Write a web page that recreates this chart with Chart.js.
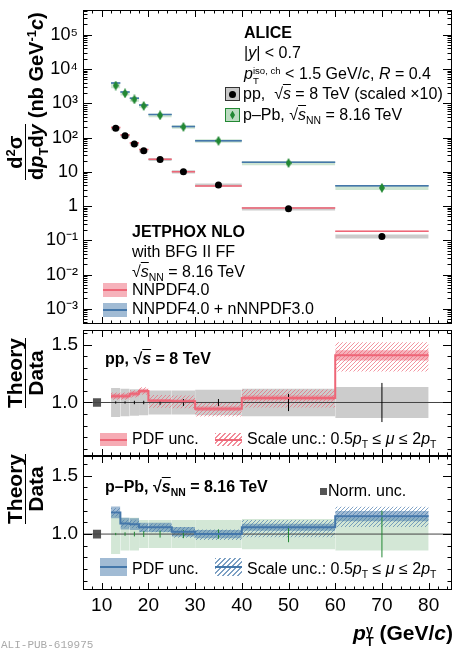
<!DOCTYPE html>
<html>
<head>
<meta charset="utf-8">
<script src="https://cdn.jsdelivr.net/npm/chart.js@4.4.1/dist/chart.umd.min.js"></script>
<style>
  body { margin: 0; background: #fff; }
  #page { position: relative; width: 458px; height: 650px; overflow: hidden; background: #fff; }
  canvas { position: absolute; left: 0; }
  .t { position: absolute; font-family: "Liberation Sans", Arial, Helvetica, sans-serif; font-size: 16px; line-height: 16px; white-space: nowrap; color: #000; }
  .b { font-weight: bold; }
  .t sup, .t sub { font-size: 65%; line-height: 0; position: relative; vertical-align: baseline; }
  .t sup { top: -0.55em; }
  .t sub { top: 0.35em; }
  .ov { text-decoration: overline; }
  .stk { display: inline-block; font-size: 60%; line-height: 1; vertical-align: -0.5em; }
  .stk span { display: block; }
  .ytitle { display: flex; align-items: flex-end; transform-origin: 0 0; transform: rotate(-90deg); }
  .frac { display: inline-flex; flex-direction: column; text-align: center; }
  .frac .num { border-bottom: 1.5px solid #000; }
  .sw { position: absolute; box-sizing: border-box; }
  .mid { position: absolute; left: 0; right: 0; top: 50%; height: 2px; margin-top: -1px; }
  .hr { background: repeating-linear-gradient(135deg, rgba(238,102,119,0.75) 0 1px, transparent 1px 3.5px); }
  .hb { background: repeating-linear-gradient(135deg, rgba(68,119,170,0.7) 0 1px, transparent 1px 3.5px); }
  #tag { position: absolute; left: 1px; top: 639px; font-family: "Liberation Mono", "DejaVu Sans Mono", monospace; font-size: 11px; color: #aaa; }
</style>
</head>
<body>
<div id="page">
  <canvas id="top" width="458" height="330" style="top:0"></canvas>
  <canvas id="pp" width="458" height="135" style="top:325px"></canvas>
  <canvas id="ppb" width="458" height="194" style="top:456px"></canvas>

  <!-- top panel texts -->
  <div class="t b ytitle" style="left:5px;top:180px;font-size:20px;line-height:20px">
    <span class="frac"><span class="num">d<sup>2</sup>σ</span><span>d<i>p</i><sub>T</sub>d<i>y</i></span></span>
    <span style="margin-left:6px">(nb GeV<sup>-1</sup><i>c</i>)</span>
  </div>
  <div class="t b" style="left:244px;top:25px">ALICE</div>
  <div class="t" style="left:244px;top:45px">|<i>y</i>| &lt; 0.7</div>
  <div class="t" style="left:244px;top:66px"><i>p</i><span class="stk"><span>iso, ch</span><span>T</span></span> &lt; 1.5 GeV/<i>c</i>, <i>R</i> = 0.4</div>
  <div class="sw" style="left:225px;top:87px;width:15px;height:14px;background:#c8c8c8;border:1px solid #333">
    <div style="position:absolute;left:3px;top:2.5px;width:7px;height:7px;border-radius:50%;background:#000"></div>
  </div>
  <div class="t" style="left:243px;top:86px">pp,&nbsp; √<span class="ov"><i>s</i></span> = 8 TeV (scaled ×10)</div>
  <div class="sw" style="left:225px;top:108px;width:15px;height:14px;background:rgba(34,136,51,0.3);border:1px solid #228833">
    <div style="position:absolute;left:4px;top:1.5px;width:5px;height:9px;background:#228833;clip-path:polygon(50% 0,100% 50%,50% 100%,0 50%)"></div>
  </div>
  <div class="t" style="left:243px;top:107px">p–Pb, √<span class="ov"><i>s</i></span><sub>NN</sub> = 8.16 TeV</div>

  <div class="t b" style="left:132px;top:224px">JETPHOX NLO</div>
  <div class="t" style="left:132px;top:244px">with BFG II FF</div>
  <div class="t" style="left:132px;top:264px">√<span class="ov"><i>s</i></span><sub>NN</sub> = 8.16 TeV</div>
  <div class="sw" style="left:103px;top:283px;width:24px;height:14px;background:rgba(238,102,119,0.5)"><div class="mid" style="background:#EE6677"></div></div>
  <div class="t" style="left:132px;top:282px">NNPDF4.0</div>
  <div class="sw" style="left:103px;top:303px;width:24px;height:14px;background:rgba(68,119,170,0.5)"><div class="mid" style="background:#4477AA"></div></div>
  <div class="t" style="left:132px;top:301px">NNPDF4.0 + nNNPDF3.0</div>

  <!-- pp ratio panel texts -->
  <div class="t b ytitle" style="left:5px;top:408px;font-size:21px;line-height:20px">
    <span class="frac"><span class="num">Theory</span><span>Data</span></span>
  </div>
  <div class="t b" style="left:105px;top:351px">pp, √<span class="ov"><i>s</i></span> = 8 TeV</div>
  <div class="sw" style="left:100px;top:433px;width:27px;height:13px;background:rgba(238,102,119,0.55)"><div class="mid" style="background:#EE6677"></div></div>
  <div class="t" style="left:132px;top:431px">PDF unc.</div>
  <div class="sw hr" style="left:215px;top:433px;width:27px;height:13px"><div class="mid" style="background:#EE6677"></div></div>
  <div class="t" style="left:247px;top:431px">Scale unc.: 0.5<i>p</i><sub>T</sub> ≤ <i>μ</i> ≤ 2<i>p</i><sub>T</sub></div>

  <!-- p-Pb ratio panel texts -->
  <div class="t b ytitle" style="left:5px;top:524px;font-size:21px;line-height:20px">
    <span class="frac"><span class="num">Theory</span><span>Data</span></span>
  </div>
  <div class="t b" style="left:105px;top:479px">p–Pb, √<span class="ov"><i>s</i></span><sub>NN</sub> = 8.16 TeV</div>
  <div class="sw" style="left:320px;top:488px;width:7px;height:7px;background:#555"></div>
  <div class="t" style="left:328px;top:483px">Norm. unc.</div>
  <div class="sw" style="left:100px;top:558px;width:27px;height:18px;background:rgba(68,119,170,0.5)"><div class="mid" style="background:#4477AA"></div></div>
  <div class="t" style="left:132px;top:561px">PDF unc.</div>
  <div class="sw hb" style="left:215px;top:558px;width:27px;height:18px"><div class="mid" style="background:#4477AA"></div></div>
  <div class="t" style="left:247px;top:561px">Scale unc.: 0.5<i>p</i><sub>T</sub> ≤ <i>μ</i> ≤ 2<i>p</i><sub>T</sub></div>

  <div class="t b" style="right:5px;top:622px;font-size:21px;line-height:21px"><i>p</i><span class="stk"><span>γ</span><span>T</span></span> (GeV/<i>c</i>)</div>
  <div id="tag">ALI-PUB-619975</div>
</div>

<script>
// pT bins (GeV/c)
const binLo = [12, 14, 16, 18, 20, 25, 30, 40, 60];
const binHi = [14, 16, 18, 20, 25, 30, 40, 60, 80];
const binMid = [13, 15, 17, 19, 22.5, 27.5, 35, 50, 70];

// measured cross sections, nb GeV^-1 c (pp scaled x10)
const ppXsec = [186, 112, 65, 41, 23, 10, 4.1, 0.84, 0.13];
const ppStat = [0.01, 0.01, 0.015, 0.015, 0.02, 0.03, 0.03, 0.075, 0.17];
const ppSyst = [0.125, 0.12, 0.115, 0.11, 0.105, 0.105, 0.11, 0.12, 0.135];
const pPbXsec = [3300, 1950, 1300, 840, 445, 205, 80, 18, 3.4];
const pPbStat = [0.01, 0.015, 0.02, 0.025, 0.03, 0.035, 0.04, 0.07, 0.2];
const pPbSyst = [0.17, 0.14, 0.14, 0.12, 0.12, 0.12, 0.12, 0.13, 0.14];

// JETPHOX / data
const ppRatio = [1.055, 1.055, 1.075, 1.10, 1.015, 1.01, 0.945, 1.04, 1.41];
const ppPdf = [0.02, 0.02, 0.02, 0.02, 0.015, 0.015, 0.02, 0.02, 0.045];
const ppScaleDn = [0.03, 0.03, 0.03, 0.03, 0.06, 0.06, 0.07, 0.08, 0.10];
const ppScaleUp = [0.03, 0.03, 0.03, 0.03, 0.05, 0.05, 0.06, 0.07, 0.08];
const pPbRatio = [1.186, 1.09, 1.085, 1.058, 1.058, 1.02, 1.0, 1.058, 1.154];
const pPbPdf = [0.05, 0.05, 0.05, 0.04, 0.04, 0.04, 0.035, 0.03, 0.045];
const pPbScaleDn = [0.03, 0.03, 0.03, 0.04, 0.04, 0.05, 0.05, 0.08, 0.08];
const pPbScaleUp = [0.03, 0.03, 0.03, 0.03, 0.03, 0.04, 0.04, 0.06, 0.07];

// normalisation uncertainty box
const normX = [8.1, 9.9];
const normUnc = 0.037;

// axes
const xRange = [6, 85];
const logRange = [3.6e-4, 5.3e5];
const logExps = [-4, -3, -2, -1, 0, 1, 2, 3, 4, 5];
const ppRange = [0.535, 1.63];
const pPbRange = [0.52, 1.67];

const RED = '#EE6677', BLUE = '#4477AA', GREEN = '#228833';
const FONT = '"Liberation Sans", Arial, Helvetica, sans-serif';
const SUP = {'-': '⁻', '0': '⁰', '1': '¹', '2': '²', '3': '³', '4': '⁴', '5': '⁵', '6': '⁶', '7': '⁷', '8': '⁸', '9': '⁹'};

function hatch(color) {
    const c = document.createElement('canvas');
    c.width = c.height = 4;
    const g = c.getContext('2d');
    g.strokeStyle = color;
    g.lineWidth = 1;
    g.beginPath();
    g.moveTo(0, 4); g.lineTo(4, 0);
    g.moveTo(-1, 1); g.lineTo(1, -1);
    g.moveTo(3, 5); g.lineTo(5, 3);
    g.stroke();
    return g.createPattern(c, 'repeat');
}

function diamond(color) {
    const c = document.createElement('canvas');
    c.width = 6; c.height = 10;
    const g = c.getContext('2d');
    g.fillStyle = color;
    g.beginPath();
    g.moveTo(3, 0); g.lineTo(6, 5); g.lineTo(3, 10); g.lineTo(0, 5);
    g.closePath();
    g.fill();
    return c;
}

// one filled box per bin: an invisible top edge and a bottom edge filled up to it
function boxSets(lo, hi, bottom, top, color, order) {
    const out = [];
    lo.forEach((x0, i) => {
        out.push({ data: [{x: x0, y: top[i]}, {x: hi[i], y: top[i]}], borderColor: 'rgba(0,0,0,0)', borderWidth: 0, pointRadius: 0, fill: false, order });
        out.push({ data: [{x: x0, y: bottom[i]}, {x: hi[i], y: bottom[i]}], borderColor: 'rgba(0,0,0,0)', borderWidth: 0, pointRadius: 0, fill: '-1', backgroundColor: color, order });
    });
    return out;
}

function segments(lo, hi, val) {
    const d = [];
    lo.forEach((x0, i) => d.push({x: x0, y: val[i]}, {x: hi[i], y: val[i]}, {x: hi[i], y: null}));
    return d;
}

function errBars(xs, val, rel) {
    const d = [];
    xs.forEach((x, i) => d.push({x, y: val[i] * (1 - rel[i])}, {x, y: val[i] * (1 + rel[i])}, {x, y: null}));
    return d;
}

function stepLine(val) {
    const d = binLo.map((x, i) => ({x, y: val[i]}));
    d.push({x: binHi[binHi.length - 1], y: val[val.length - 1]});
    return d;
}

const scaleBy = (a, f) => a.map((v, i) => v * f[i]);
const band = (c, r, sign) => c.map((v, i) => v + sign * r[i]);
const ones = binMid.map(() => 1);

const frameTicks = {
    id: 'frameTicks',
    afterDatasetsDraw(chart) {
        const {ctx, chartArea: a} = chart;
        const xs = chart.scales.x, ys = chart.scales.y;
        ctx.save();
        ctx.strokeStyle = '#000';
        ctx.lineWidth = 1;
        ctx.beginPath();
        xs.ticks.forEach(t => {
            const p = Math.round(xs.getPixelForValue(t.value)) + 0.5;
            const len = Math.abs(t.value % 10) < 1e-9 ? 7 : 3.5;
            ctx.moveTo(p, a.bottom); ctx.lineTo(p, a.bottom - len);
            ctx.moveTo(p, a.top); ctx.lineTo(p, a.top + len);
        });
        ys.ticks.forEach(t => {
            const p = Math.round(ys.getPixelForValue(t.value)) + 0.5;
            const len = t.label ? 9 : 4.5;
            ctx.moveTo(a.left, p); ctx.lineTo(a.left + len, p);
            ctx.moveTo(a.right, p); ctx.lineTo(a.right - len, p);
        });
        ctx.stroke();
        ctx.strokeRect(a.left + 0.5, a.top + 0.5, a.right - a.left - 1, a.bottom - a.top - 1);
        ctx.restore();
    }
};

function xAxis(show) {
    return {
        type: 'linear', min: xRange[0], max: xRange[1], display: show,
        grid: { display: false, drawTicks: false }, border: { display: false },
        ticks: { stepSize: 2, includeBounds: false, autoSkip: false, maxRotation: 0, padding: 4, color: '#000',
                 font: { family: FONT, size: 19 }, callback: v => v % 10 === 0 ? String(v) : '' },
        afterFit: s => {
            s.height = show ? 60 : 0;
            s.paddingLeft = 0; s.paddingRight = 0;
        }
    };
}

function fitLeft(s) {
    s.width = 83;
    s.paddingTop = 0; s.paddingBottom = 0;
}

function ratioAxis(range) {
    return {
        type: 'linear', min: range[0], max: range[1],
        grid: { display: false, drawTicks: false }, border: { display: false },
        ticks: { stepSize: 0.1, includeBounds: false, autoSkip: false, padding: 5, color: '#000',
                 font: { family: FONT, size: 19 },
                 callback: v => Math.abs(v - 1) < 1e-6 ? '1.0' : (Math.abs(v - 1.5) < 1e-6 ? '1.5' : '') },
        afterFit: fitLeft
    };
}

function logLabel(v) {
    const e = Math.round(Math.log10(v));
    if (Math.abs(v / Math.pow(10, e) - 1) > 1e-6) return '';
    if (e === 0) return '1';
    if (e === 1) return '10';
    return '10' + String(e).split('').map(ch => SUP[ch]).join('');
}

const logTicks = [];
logExps.forEach(e => {
    for (let k = 1; k <= 9; k++) {
        const v = k * Math.pow(10, e);
        if (v >= logRange[0] && v <= logRange[1]) logTicks.push(v);
    }
});

function makeChart(id, yScale, datasets, showX, padding) {
    return new Chart(document.getElementById(id), {
        type: 'line',
        data: { datasets },
        options: {
            responsive: false, animation: false, events: [],
            layout: { padding },
            elements: { line: { tension: 0 } },
            plugins: { legend: { display: false }, tooltip: { enabled: false } },
            scales: { x: xAxis(showX), y: yScale }
        },
        plugins: [frameTicks]
    });
}

// ---- top panel: cross sections ----
const ppTheory = scaleBy(ppXsec, ppRatio);
const pPbTheory = scaleBy(pPbXsec, pPbRatio);
const topSets = [].concat(
    boxSets(binLo, binHi, ppXsec.map((v, i) => v * (1 - ppSyst[i])), ppXsec.map((v, i) => v * (1 + ppSyst[i])), 'rgba(160,160,160,0.55)', 60),
    boxSets(binLo, binHi, pPbXsec.map((v, i) => v * (1 - pPbSyst[i])), pPbXsec.map((v, i) => v * (1 + pPbSyst[i])), 'rgba(34,136,51,0.22)', 60),
    boxSets(binLo, binHi, ppTheory.map((v, i) => v * (1 - ppPdf[i])), ppTheory.map((v, i) => v * (1 + ppPdf[i])), 'rgba(238,102,119,0.5)', 40),
    boxSets(binLo, binHi, pPbTheory.map((v, i) => v * (1 - pPbPdf[i])), pPbTheory.map((v, i) => v * (1 + pPbPdf[i])), 'rgba(68,119,170,0.5)', 40),
    [
        { data: segments(binLo, binHi, ppTheory), borderColor: RED, borderWidth: 1.5, pointRadius: 0, fill: false, order: 30 },
        { data: segments(binLo, binHi, pPbTheory), borderColor: BLUE, borderWidth: 1.5, pointRadius: 0, fill: false, order: 30 },
        { data: errBars(binMid, ppXsec, ppStat), borderColor: '#000', borderWidth: 1, pointRadius: 0, fill: false, order: 20 },
        { data: errBars(binMid, pPbXsec, pPbStat), borderColor: GREEN, borderWidth: 1, pointRadius: 0, fill: false, order: 20 },
        { data: binMid.map((x, i) => ({x, y: ppXsec[i]})), showLine: false, pointRadius: 3.5, pointBackgroundColor: '#000', pointBorderWidth: 0, order: 10 },
        { data: binMid.map((x, i) => ({x, y: pPbXsec[i]})), showLine: false, pointStyle: diamond(GREEN), pointRadius: 5, order: 10 }
    ]
);
makeChart('top', {
    type: 'logarithmic', min: logRange[0], max: logRange[1],
    grid: { display: false, drawTicks: false }, border: { display: false },
    afterBuildTicks: s => { s.ticks = logTicks.map(v => ({ value: v })); },
    ticks: { autoSkip: false, padding: 5, color: '#000', font: { family: FONT, size: 18 }, callback: v => logLabel(v) },
    afterFit: fitLeft
}, topSets, false, { top: 10, bottom: 5, left: 0, right: 6 });

// ---- ratio panels ----
function ratioSets(dataColor, syst, stat, statColor, ratio, pdf, scDn, scUp, color, fillColor, hatchColor) {
    return [].concat(
        boxSets(binLo, binHi, band(ones, syst, -1), band(ones, syst, 1), dataColor, 70),
        boxSets([normX[0]], [normX[1]], [1 - normUnc], [1 + normUnc], '#555', 65),
        boxSets(binLo, binHi, ratio.map((v, i) => v * (1 - scDn[i])), ratio.map((v, i) => v * (1 + scUp[i])), hatch(hatchColor), 50),
        boxSets(binLo, binHi, band(ratio, pdf, -1), band(ratio, pdf, 1), fillColor, 40),
        [
            { data: [{x: xRange[0], y: 1}, {x: xRange[1], y: 1}], borderColor: '#444', borderWidth: 1, pointRadius: 0, fill: false, order: 35 },
            { data: errBars(binMid, ones, stat), borderColor: statColor, borderWidth: 1, pointRadius: 0, fill: false, order: 20 },
            { data: stepLine(ratio), stepped: 'before', borderColor: color, borderWidth: 2, pointRadius: 0, fill: false, order: 10 }
        ]
    );
}

makeChart('pp', ratioAxis(ppRange),
    ratioSets('rgba(170,170,170,0.6)', ppSyst, ppStat, '#000', ppRatio, ppPdf, ppScaleDn, ppScaleUp, RED, 'rgba(238,102,119,0.5)', 'rgba(238,102,119,0.7)'),
    false, { top: 5, bottom: 4, left: 0, right: 6 });

makeChart('ppb', ratioAxis(pPbRange),
    ratioSets('rgba(34,136,51,0.2)', pPbSyst, pPbStat, GREEN, pPbRatio, pPbPdf, pPbScaleDn, pPbScaleUp, BLUE, 'rgba(68,119,170,0.5)', 'rgba(68,119,170,0.65)'),
    true, { top: 0, bottom: 0, left: 0, right: 6 });
</script>
</body>
</html>
